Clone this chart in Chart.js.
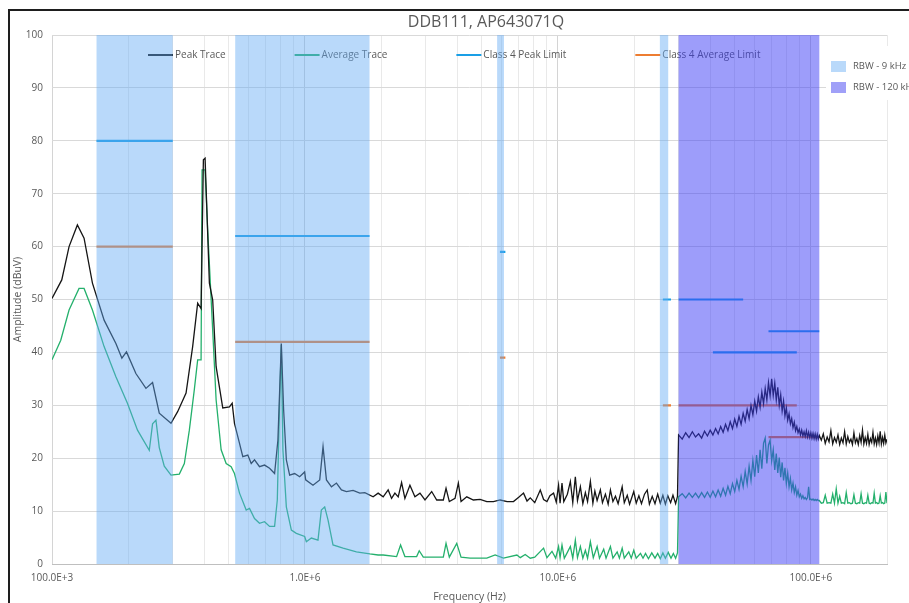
<!DOCTYPE html>
<html><head><meta charset="utf-8">
<script src="https://cdn.jsdelivr.net/npm/chart.js@4.4.1/dist/chart.umd.min.js"></script>
<style>html,body{margin:0;padding:0;background:#fff;}canvas{display:block;}</style>
</head><body>
<canvas id="c" width="909" height="603"></canvas>
<script>
// ---------- DATA ----------
const chartTitle = 'DDB111, AP643071Q';
const xAxisTitle = 'Frequency (Hz)';
const yAxisTitle = 'Amplitude (dBuV)';
const seriesNames = ['Peak Trace', 'Average Trace', 'Class 4 Peak Limit', 'Class 4 Average Limit'];
const bandNames = ['RBW - 9 kHz', 'RBW - 120 kHz'];

// Peak trace, 100 kHz – 30 MHz (frequency in MHz, level in dBuV)
const peakFreqLow = [
 0.100,0.1093,0.1168,0.126,0.1339,0.1445,0.1607,0.1789,0.1889,0.197,
 0.2146,0.2352,0.2498,0.2655,0.2954,0.3138,0.3388,0.3598,0.3766,0.3885,
 0.3967,0.4029,0.419,0.4318,0.4455,0.4732,0.503,0.5155,0.5265,0.5512,
 0.568,0.5944,0.6132,0.6319,0.6613,0.6922,0.7247,0.7585,0.7817,0.8064,
 0.8236,0.8441,0.87,0.9105,0.9528,0.9973,1.0065,1.076,1.144,1.179,
 1.216,1.273,1.332,1.394,1.459,1.55,1.648,1.725,1.86,1.947,
 2.038,2.133,2.2,2.268,2.337,2.41,2.484,2.6,2.721,2.849,
 2.982,3.17,3.318,3.524,3.612,3.722,3.92,4.041,4.141,4.362,
 4.634,4.925,5.236,5.561,5.91,6.3,6.674,7.0,7.313,7.55,
 7.776,8.1,8.517,8.78,9.053,9.3,9.614,9.85,10.06,10.2,
 10.38,10.55,10.9,11.2,11.45,11.72,11.95,12.27,12.55,12.84,
 13.1,13.44,13.75,14.0,14.29,14.72,15.0,15.41,15.8,16.13,
 16.5,16.89,17.3,17.95,18.3,18.8,19.2,19.95,20.4,20.9,
 21.4,22.0,22.55,23.0,23.6,24.2,24.8,25.4,26.0,26.6,
 27.2,27.9,28.5,29.2,29.7];
const peakDbLow = [
 50.2,53.7,60.0,64.1,61.6,53.1,46.1,41.7,38.9,40.1,
 36.0,33.2,34.3,28.5,26.6,28.8,32.3,41.1,49.3,48.3,
 76.4,76.7,53.1,49.9,37.3,29.5,29.7,30.4,26.6,22.8,
 20.3,20.6,19.0,19.7,18.4,18.7,18.1,17.1,23.4,41.7,
 29.1,19.7,16.8,17.1,16.5,17.4,15.9,14.9,15.9,22.2,
 15.9,14.6,15.3,14.0,13.7,13.9,13.4,13.5,12.7,13.4,
 12.7,14.0,12.4,13.4,12.7,15.4,12.4,14.9,12.7,13.4,
 12.1,13.7,12.1,12.1,14.3,11.8,12.4,15.3,11.8,12.7,
 12.1,12.2,11.8,11.8,12.1,11.8,11.8,12.6,13.4,11.9,
 12.5,11.6,14.0,12.2,11.8,12.9,13.4,11.7,14.9,11.5,
 15.3,11.8,13.2,15.6,11.6,16.5,12.0,14.6,11.4,13.5,
 11.8,15.6,11.5,13.8,12.0,14.0,11.6,13.2,11.3,14.0,
 11.8,12.8,11.4,14.6,11.6,13.0,11.3,13.7,11.5,12.9,
 11.4,13.2,14.0,11.3,12.8,11.4,13.2,11.5,13.0,11.3,
 12.9,11.6,13.0,11.4,12.8];

// Average trace, 100 kHz – 30 MHz
const avgFreqLow = [
 0.100,0.1083,0.1168,0.1279,0.1339,0.1445,0.1607,0.1789,0.1987,0.2178,
 0.2424,0.2498,0.2576,0.2655,0.2779,0.2954,0.3187,0.3336,0.3491,0.3654,
 0.3766,0.3885,0.392,0.4029,0.4126,0.4318,0.4455,0.4663,0.4881,0.5108,
 0.5265,0.5512,0.5858,0.6037,0.6319,0.6613,0.6922,0.7247,0.7585,0.7775,
 0.7941,0.8064,0.8183,0.8441,0.8836,0.9247,0.9973,1.013,1.06,1.126,
 1.161,1.197,1.234,1.291,1.415,1.598,1.805,1.947,2.038,2.303,
 2.388,2.484,2.764,2.83,2.936,3.524,3.612,3.722,3.982,4.141,
 4.496,5.236,5.648,6.091,6.885,7.1,7.427,7.776,8.1,8.777,
 9.05,9.476,9.8,10.06,10.2,10.38,10.6,10.9,11.2,11.45,
 11.72,11.95,12.27,12.55,12.84,13.1,13.44,13.8,14.29,14.6,
 15.17,15.5,16.13,16.5,17.15,17.5,17.95,18.3,19.06,19.5,
 19.95,20.4,21.21,21.7,22.2,22.8,23.5,24.2,24.8,25.4,
 26.0,26.6,27.3,28.0,28.6,29.2,29.7];
const avgDbLow = [
 38.6,42.3,48.0,52.1,52.1,48.0,41.1,35.4,30.4,25.3,
 21.5,26.5,27.2,22.0,18.5,16.8,17.0,19.0,25.3,33.0,
 38.6,38.6,74.5,74.5,63.1,44.2,31.0,21.6,19.0,18.4,
 17.1,13.4,10.2,10.5,8.6,7.7,8.0,7.1,7.1,12.1,
 31.0,41.4,21.6,10.8,6.4,5.8,5.2,4.2,4.9,4.5,
 10.2,10.8,8.3,3.6,3.0,2.3,1.9,1.7,1.7,1.4,
 3.6,1.4,1.4,2.5,1.3,1.3,3.9,1.3,3.9,1.3,
 1.1,1.1,1.7,1.1,1.7,1.2,1.8,1.1,1.3,3.0,
 1.2,2.4,1.1,3.3,1.2,3.6,1.1,2.2,3.3,1.1,
 4.5,1.2,3.3,1.1,2.6,1.1,4.2,1.2,3.3,1.1,
 2.8,1.1,3.3,1.1,2.3,1.1,3.0,1.1,2.3,1.1,
 2.6,1.1,2.0,1.1,2.0,1.0,2.1,1.1,2.0,1.0,
 2.1,1.1,2.2,1.1,2.0,1.1,2.1];

// 30 MHz – 200 MHz sweep (frequency in MHz)
const hfFreq = [
 30,31,32,33,34,35,36,37,38,39,40,41,42,43,44,45,46,47,48,49,
 50,51,52,53,54,55,56,57,58,59,60,61,62,63,64,65,66,67,68,69,
 70,71,72,73,74,75,76,77,78,79,80,81,82,83,84,85,86,87,88,89,
 90,91,92,93,94,95,96,97,98,99,100,101,102,103,104,105,106,107,108,
 110,112,114,116,118,120,122,124,126,128,130,132,134,136,138,140,142,144,146,148,
 150,152,154,156,158,160,162,164,166,168,170,172,174,176,178,180,182,184,186,188,
 190,192,194,196,198,200];
const peakDbHf = [
 24.4,23.6,24.8,23.9,25.0,24.0,24.6,23.8,25.1,24.2,25.3,24.4,25.6,24.6,26.0,24.9,26.4,25.2,26.9,25.6,
 27.4,26.0,27.9,26.4,28.5,27.0,29.2,27.5,30.0,28.2,30.8,28.9,31.6,29.6,32.5,30.3,33.2,31.0,34.3,31.8,
 35.0,31.9,34.2,31.0,33.4,30.0,32.0,28.9,30.8,28.0,29.5,27.2,28.4,26.5,27.5,25.8,26.8,25.2,26.0,24.8,
 25.5,24.4,25.3,24.2,25.0,24.1,25.2,24.0,24.9,23.9,24.8,23.8,24.7,23.7,24.6,23.6,24.5,23.6,24.3,
 23.4,24.6,22.8,24.0,23.1,25.2,22.7,23.9,23.0,24.4,22.6,23.8,22.9,25.0,22.7,24.1,23.0,23.6,22.6,24.8,
 22.9,23.7,22.6,24.3,23.0,25.3,22.7,23.9,22.8,24.5,22.6,23.7,23.0,24.9,22.7,23.8,22.6,24.2,22.9,25.1,
 22.7,23.9,22.8,24.4,22.9,23.6];
const avgDbHf = [
 12.7,13.3,12.5,13.4,12.6,13.4,12.5,13.5,12.6,13.6,12.6,13.8,12.7,14.0,12.8,14.3,13.0,14.7,13.3,15.2,
 13.7,15.8,14.1,16.6,14.6,17.5,15.1,18.5,15.8,19.6,16.5,20.6,17.2,21.6,18.0,22.8,23.8,19.0,22.5,23.4,
 19.5,21.6,17.8,20.9,17.2,20.1,16.4,19.2,15.8,18.2,15.2,17.2,14.6,16.2,14.0,15.3,13.5,14.6,13.0,13.9,
 12.7,13.2,12.4,12.9,12.3,12.6,12.2,12.5,14.6,12.2,12.3,12.1,12.3,12.0,12.2,12.0,12.2,12.0,12.0,
 11.5,11.6,13.0,11.5,11.6,11.5,13.2,11.5,14.2,11.5,12.8,11.5,11.6,11.4,13.5,11.5,11.6,11.4,11.5,13.1,
 11.5,11.4,11.6,11.5,13.3,11.5,11.4,11.6,11.5,13.0,11.5,11.4,11.6,11.5,13.4,11.5,11.6,11.4,11.5,12.9,
 11.5,11.6,11.4,11.5,13.6,11.5];

// Class 4 limits (MHz start, MHz stop, dBuV)
const peakLimitStart = [0.15, 0.53, 5.9, 26, 30, 41, 68];
const peakLimitStop  = [0.30, 1.8, 6.2, 28, 54, 88, 108];
const peakLimitDb    = [80, 62, 59, 50, 50, 40, 44];
const avgLimitStart  = [0.15, 0.53, 5.9, 26, 30, 41, 68];
const avgLimitStop   = [0.30, 1.8, 6.2, 28, 54, 88, 108];
const avgLimitDb     = [60, 42, 39, 30, 30, 30, 24];

// RBW bands (MHz); kind 0 = 9 kHz, 1 = 120 kHz
const bandStart = [0.15, 0.53, 5.75, 25.3, 30];
const bandStop  = [0.30, 1.8, 6.12, 27.3, 108];
const bandKind  = [0, 0, 0, 0, 1];

const yTicksMin = 0, yTicksMax = 100, yTickStep = 10;
const xMin = 1e5, xMax = 2e8;

// ---------- STYLE ----------
const FONT = "'Open Sans', 'Noto Sans', sans-serif";
const TEXT = '#595959';
const colPeak = '#151515', colAvg = '#24b06c', colPeakLim = '#1a9fe6', colAvgLim = '#ed7d31';
const bandFill = ['rgba(100,170,245,0.45)', 'rgba(60,60,245,0.5)'];
const bandSwatch = ['#b9d9fa', '#a0a0f8'];

// ---------- BUILD ----------
const toPts = (f, v) => f.map((fr, i) => ({x: fr * 1e6, y: v[i]}));
const limitPts = (s, e, v) => {
  const out = [];
  s.forEach((st, i) => {
    out.push({x: st * 1e6, y: v[i]}, {x: e[i] * 1e6, y: v[i]}, {x: e[i] * 1e6, y: null});
  });
  return out;
};
const peakData = toPts(peakFreqLow, peakDbLow).concat(toPts(hfFreq, peakDbHf));
const avgData = toPts(avgFreqLow, avgDbLow).concat(toPts(hfFreq, avgDbHf));

function engLabel(v) {
  const lg = Math.log10(v);
  if (Math.abs(lg - Math.round(lg)) > 1e-9) return '';
  const e = Math.floor(Math.round(lg) / 3) * 3;
  return (v / Math.pow(10, e)).toFixed(1) + 'E+' + e;
}

const framePlugin = {
  id: 'frame',
  beforeDraw(chart) {
    const ctx = chart.ctx;
    ctx.save();
    ctx.fillStyle = '#fff';
    ctx.fillRect(0, 0, chart.width, chart.height);
    ctx.strokeStyle = '#1e1e1e';
    ctx.lineWidth = 2;
    ctx.beginPath();
    ctx.moveTo(9, chart.height); ctx.lineTo(9, 10); ctx.lineTo(chart.width, 10);
    ctx.stroke();
    ctx.restore();
  },
  afterDraw(chart) {
    const ctx = chart.ctx;
    ctx.save();
    ctx.font = "16px " + FONT;
    ctx.fillStyle = TEXT;
    ctx.textAlign = 'center';
    ctx.textBaseline = 'middle';
    ctx.fillText(chartTitle, 486, 22);
    ctx.restore();
  }
};

const bandPlugin = {
  id: 'bands',
  afterDatasetsDraw(chart) {
    const {ctx, chartArea: a, scales: {x}} = chart;
    // series legend (drawn under the bands)
    ctx.save();
    ctx.font = "10px " + FONT;
    ctx.textBaseline = 'middle';
    let lx = a.left + 96;
    const ly = a.top + 20;
    chart.data.datasets.forEach(ds => {
      ctx.strokeStyle = ds.borderColor;
      ctx.lineWidth = 2;
      ctx.beginPath(); ctx.moveTo(lx, ly); ctx.lineTo(lx + 25, ly); ctx.stroke();
      ctx.fillStyle = TEXT;
      ctx.fillText(ds.label, lx + 27, ly + 0.5);
      lx += 27 + ctx.measureText(ds.label).width + 69;
    });
    ctx.restore();
    // bands
    ctx.save();
    ctx.beginPath(); ctx.rect(a.left, a.top, a.right - a.left, a.bottom - a.top); ctx.clip();
    bandStart.forEach((s, i) => {
      const x0 = x.getPixelForValue(s * 1e6), x1 = x.getPixelForValue(bandStop[i] * 1e6);
      ctx.fillStyle = bandFill[bandKind[i]];
      ctx.fillRect(x0, a.top, x1 - x0, a.bottom - a.top);
    });
    ctx.restore();
    // RBW legend
    ctx.save();
    ctx.fillStyle = '#fff';
    ctx.fillRect(826, 46, chart.width - 826, 54);
    ctx.font = "9.5px " + FONT;
    ctx.textBaseline = 'middle';
    bandNames.forEach((n, i) => {
      const y = 61 + i * 21;
      ctx.fillStyle = bandSwatch[i];
      ctx.fillRect(831, y, 15, 11);
      ctx.fillStyle = TEXT;
      ctx.fillText(n, 853, y + 5.5);
    });
    ctx.restore();
  }
};

Chart.defaults.font.family = FONT;
Chart.defaults.color = TEXT;

new Chart(document.getElementById('c'), {
  type: 'line',
  data: {
    datasets: [
      {label: seriesNames[0], data: peakData, borderColor: colPeak, borderWidth: 1.3, pointRadius: 0, tension: 0},
      {label: seriesNames[1], data: avgData, borderColor: colAvg, borderWidth: 1.3, pointRadius: 0, tension: 0},
      {label: seriesNames[2], data: limitPts(peakLimitStart, peakLimitStop, peakLimitDb), borderColor: colPeakLim, borderWidth: 2.2, pointRadius: 0, spanGaps: false},
      {label: seriesNames[3], data: limitPts(avgLimitStart, avgLimitStop, avgLimitDb), borderColor: colAvgLim, borderWidth: 2.2, pointRadius: 0, spanGaps: false}
    ]
  },
  options: {
    responsive: false,
    animation: false,
    layout: {padding: {top: 35, right: 22, left: 0, bottom: 0}},
    plugins: {legend: {display: false}, title: {display: false}, tooltip: {enabled: false}},
    scales: {
      x: {
        type: 'logarithmic', min: xMin, max: xMax,
        afterBuildTicks(scale) {
          const t = [];
          for (let e = 5; e <= 8; e++) for (let m = 1; m <= 9; m++) {
            const v = m * Math.pow(10, e);
            if (v <= xMax * 1.0001) t.push({value: v});
          }
          scale.ticks = t;
        },
        afterFit(scale) { scale.height = 39; },
        ticks: {autoSkip: false, maxRotation: 0, minRotation: 0, padding: 8, font: {size: 10}, color: TEXT,
                callback: (v) => engLabel(v)},
        grid: {drawTicks: false, lineWidth: 1,
               color: (c) => { const v = c.tick && c.tick.value; if (!v) return '#e6e6e6';
                 const lg = Math.log10(v); return Math.abs(lg - Math.round(lg)) < 1e-9 ? '#d4d4d4' : '#e9e9e9'; }},
        border: {display: true, color: '#bfbfbf', width: 1},
        title: {display: true, text: xAxisTitle, font: {size: 10.5}, color: TEXT, padding: {top: 0, bottom: 0}}
      },
      y: {
        min: yTicksMin, max: yTicksMax,
        afterFit(scale) { scale.width = 52; },
        ticks: {stepSize: yTickStep, padding: 9, font: {size: 10}, color: TEXT},
        grid: {drawTicks: false, color: '#d9d9d9', lineWidth: 1},
        border: {display: false},
        title: {display: true, text: yAxisTitle, font: {size: 10.5}, color: TEXT, padding: {top: 12, bottom: 0}}
      }
    }
  },
  plugins: [framePlugin, bandPlugin]
});
</script>
</body></html>
